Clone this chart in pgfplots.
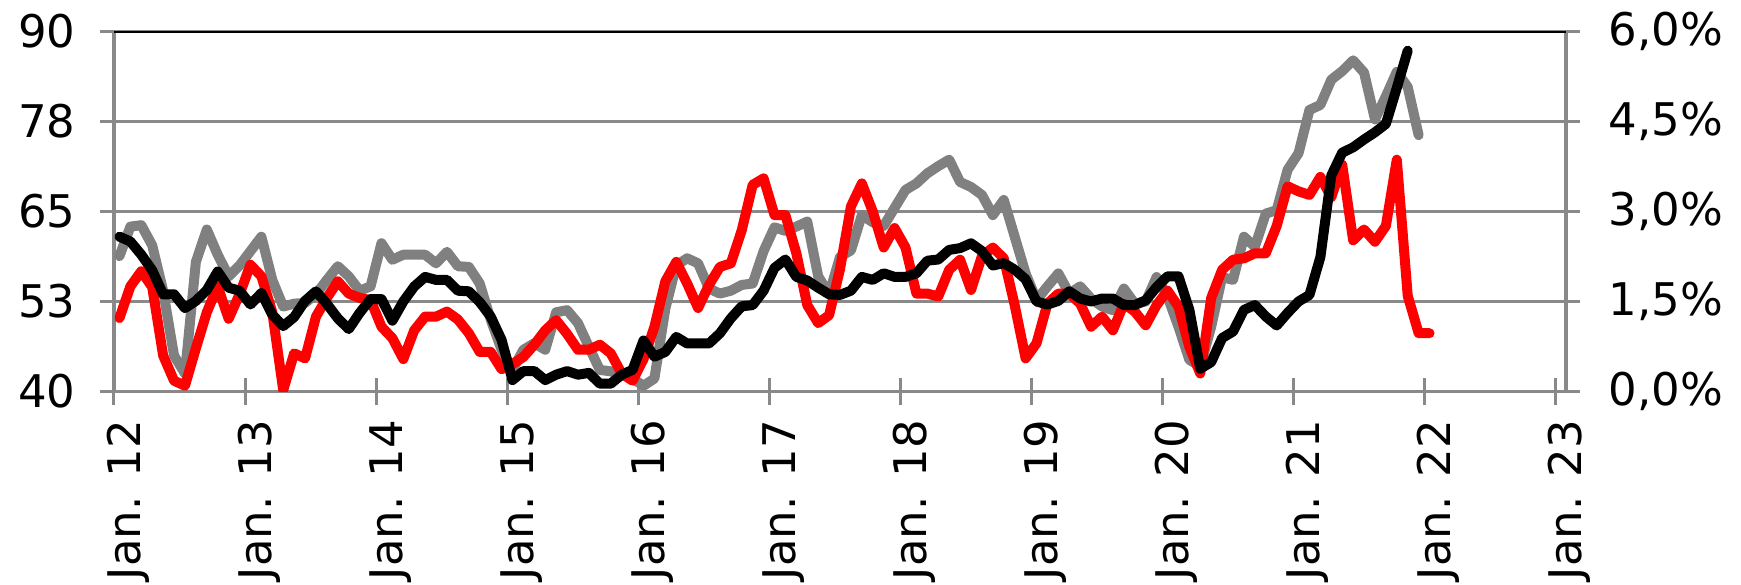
\documentclass[border=0pt]{standalone}
\usepackage{pgfplots}
\pgfplotsset{compat=1.18}
\usepackage{fontspec}
\setmainfont{DejaVu Sans}
\definecolor{sgray}{HTML}{808080}
\definecolor{ggray}{HTML}{898989}

\pgfplotstableread{
x y
0.5 58.8
1.5 62.9
2.5 63.1
3.5 60.3
4.5 54
5.5 45
6.5 42.5
7.5 58
8.5 62.5
9.5 59
10.5 56
11.5 57.5
12.5 59.5
13.5 61.5
14.5 55.5
15.5 51.8
16.5 52.2
17.5 52.3
18.5 53.5
19.5 55.5
20.5 57.4
21.5 56
22.5 54
23.5 54.6
24.5 60.6
25.5 58.3
26.5 59
27.5 59
28.5 59
29.5 57.8
30.5 59.4
31.5 57.4
32.5 57.3
33.5 55
34.5 50
35.5 45.8
36.5 43
37.5 45.8
38.5 46.7
39.5 45.8
40.5 51
41.5 51.3
42.5 49.5
43.5 46.2
44.5 43
45.5 42.8
46.5 42.3
47.5 41.8
48.5 40.8
49.5 41.8
50.5 51.5
51.5 57.5
52.5 58.5
53.5 57.8
54.5 54.3
55.5 53.6
56.5 54
57.5 54.8
58.5 55
59.5 59.5
60.5 62.8
61.5 62.3
62.5 62.9
63.5 63.6
64.5 56
65.5 53.5
66.5 58.7
67.5 59.6
68.5 64.5
69.5 63.5
70.5 63
71.5 65.5
72.5 68
73.5 68.9
74.5 70.3
75.5 71.3
76.5 72.2
77.5 69.1
78.5 68.4
79.5 67.3
80.5 64.5
81.5 66.6
82.5 61.5
83.5 56.4
84.5 52.7
85.5 54.6
86.5 56.4
87.5 53.6
88.5 54.6
89.5 52.9
90.5 51.8
91.5 51.3
92.5 54.3
93.5 52.2
94.5 52.5
95.5 55.9
96.5 53.2
97.5 49
98.5 44.4
99.5 43.5
100.5 49
101.5 55.9
102.5 55.5
103.5 61.5
104.5 60.1
105.5 64.7
106.5 65.2
107.5 70.8
108.5 73.1
109.5 79.1
110.5 79.8
111.5 83.3
112.5 84.5
113.5 86
114.5 84.3
115.5 77.8
116.5 81
117.5 84.4
118.5 82.3
119.5 75.6
}\graydata

\pgfplotstableread{
x y
0.5 50.2
1.5 54.6
2.5 56.7
3.5 54.5
4.5 45
5.5 41.5
6.5 40.8
7.5 46
8.5 51
9.5 54.6
10.5 50.1
11.5 53.5
12.5 57.6
13.5 56
14.5 51
15.5 40.2
16.5 45.3
17.5 44.6
18.5 50.4
19.5 53
20.5 55.3
21.5 53.6
22.5 53
23.5 52.7
24.5 49
25.5 47.4
26.5 44.5
27.5 48.5
28.5 50.4
29.5 50.4
30.5 51.1
31.5 50
32.5 48.1
33.5 45.5
34.5 45.5
35.5 43.1
36.5 43.8
37.5 44.8
38.5 46.5
39.5 48.5
40.5 49.9
41.5 48
42.5 45.8
43.5 45.8
44.5 46.5
45.5 45.3
46.5 42.5
47.5 41.5
48.5 44.5
49.5 49
50.5 55.3
51.5 58
52.5 55
53.5 51.6
54.5 54.8
55.5 57.3
56.5 57.8
57.5 62.4
58.5 68.7
59.5 69.6
60.5 64.5
61.5 64.5
62.5 59.2
63.5 52
64.5 49.5
65.5 50.6
66.5 57
67.5 65.7
68.5 68.9
69.5 65
70.5 60
71.5 62.7
72.5 60
73.5 53.6
74.5 53.6
75.5 53.2
76.5 56.9
77.5 58.3
78.5 54.1
79.5 58.8
80.5 60
81.5 58.5
82.5 52
83.5 44.6
84.5 46.7
85.5 52.2
86.5 53.6
87.5 53.6
88.5 52.2
89.5 49
90.5 50.4
91.5 48.5
92.5 52.2
93.5 51.1
94.5 49.2
95.5 52
96.5 54
97.5 51.8
98.5 46.2
99.5 42.5
100.5 53
101.5 56.9
102.5 58.3
103.5 58.5
104.5 59.2
105.5 59.2
106.5 63
107.5 68.5
108.5 67.8
109.5 67.3
110.5 69.8
111.5 67
112.5 71.5
113.5 61
114.5 62.5
115.5 60.8
116.5 63
117.5 72.2
118.5 53.3
119.5 48.1
120.5 48.1
}\reddata

\pgfplotstableread{
x y
0.5 2.58
1.5 2.50
2.5 2.28
3.5 2.02
4.5 1.62
5.5 1.62
6.5 1.39
7.5 1.51
8.5 1.69
9.5 2.00
10.5 1.73
11.5 1.68
12.5 1.45
13.5 1.64
14.5 1.28
15.5 1.09
16.5 1.24
17.5 1.51
18.5 1.67
19.5 1.46
20.5 1.22
21.5 1.04
22.5 1.31
23.5 1.54
24.5 1.54
25.5 1.18
26.5 1.50
27.5 1.75
28.5 1.91
29.5 1.86
30.5 1.86
31.5 1.68
32.5 1.67
33.5 1.49
34.5 1.25
35.5 0.86
36.5 0.19
37.5 0.34
38.5 0.34
39.5 0.19
40.5 0.28
41.5 0.34
42.5 0.28
43.5 0.31
44.5 0.13
45.5 0.13
46.5 0.28
47.5 0.36
48.5 0.85
49.5 0.58
50.5 0.66
51.5 0.91
52.5 0.80
53.5 0.80
54.5 0.80
55.5 0.97
56.5 1.22
57.5 1.42
58.5 1.44
59.5 1.68
60.5 2.06
61.5 2.20
62.5 1.91
63.5 1.85
64.5 1.73
65.5 1.62
66.5 1.61
67.5 1.68
68.5 1.91
69.5 1.86
70.5 1.97
71.5 1.91
72.5 1.91
73.5 1.97
74.5 2.18
75.5 2.20
76.5 2.36
77.5 2.39
78.5 2.47
79.5 2.34
80.5 2.10
81.5 2.14
82.5 2.03
83.5 1.87
84.5 1.50
85.5 1.45
86.5 1.51
87.5 1.67
88.5 1.55
89.5 1.50
90.5 1.55
91.5 1.55
92.5 1.44
93.5 1.44
94.5 1.52
95.5 1.74
96.5 1.92
97.5 1.92
98.5 1.36
99.5 0.38
100.5 0.49
101.5 0.89
102.5 1.00
103.5 1.36
104.5 1.44
105.5 1.25
106.5 1.10
107.5 1.31
108.5 1.50
109.5 1.61
110.5 2.24
111.5 3.60
112.5 3.98
113.5 4.07
114.5 4.20
115.5 4.32
116.5 4.46
117.5 5.06
118.5 5.68
}\blackdata

\begin{document}
\begin{tikzpicture}[x=1pt,y=1pt]
\pgfplotsset{
  base/.style={
    at={(114pt,-391.5pt)}, anchor=south west,
    width=1452pt, height=360pt, scale only axis,
    xmin=0, xmax=133,
    tick align=center, major tick length=27pt,
    tick label style={font=\fontsize{45}{53}\selectfont},
    every tick/.style={ggray, line width=3pt},
    axis line style={ggray, line width=3.5pt},
  }
}
\begin{axis}[base,
  ymin=40, ymax=90,
  axis x line*=bottom, axis y line*=left,
  xtick={0,12,...,132},
  xticklabels={Jan. 12,Jan. 13,Jan. 14,Jan. 15,Jan. 16,Jan. 17,Jan. 18,Jan. 19,Jan. 20,Jan. 21,Jan. 22,Jan. 23},
  xticklabel style={rotate=90, anchor=east, inner sep=0pt, xshift=-15pt, yshift=-14.5pt},
  ytick={40,52.5,65,77.5,90},
  yticklabels={40,53,65,78,90},
  yticklabel style={anchor=east, inner sep=0pt, xshift=-25pt},
  ymajorgrids=true,
  major grid style={ggray, line width=3.3pt},
]
\addplot[sgray, line width=10pt, line join=round, line cap=round] table {\graydata};
\addplot[red, line width=10pt, line join=round, line cap=round] table {\reddata};
\end{axis}
\begin{axis}[base,
  ymin=0, ymax=6,
  axis x line=none, axis y line*=right,
  ytick={0,1.5,3,4.5,6},
  yticklabels={{0,0\%},{1,5\%},{3,0\%},{4,5\%},{6,0\%}},
  yticklabel style={anchor=west, inner sep=0pt, xshift=29pt},
]
\draw[black, line width=3.5pt] (axis cs:0,6) -- (axis cs:133,6);
\addplot[black, line width=10pt, line join=round, line cap=round] table {\blackdata};
\end{axis}
\pgfresetboundingbox
\path[use as bounding box] (0,0) rectangle (1741,-585);
\end{tikzpicture}
\end{document}
